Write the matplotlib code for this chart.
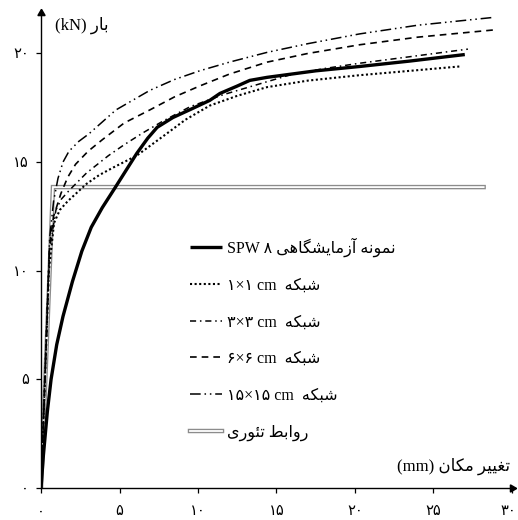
import matplotlib
matplotlib.use('Agg')
import matplotlib.pyplot as plt
from matplotlib.transforms import ScaledTranslation

FAMILY = ['Liberation Serif', 'DejaVu Sans']
plt.rcParams['font.family'] = FAMILY

# joining forms for the Persian letters used: (isolated, final, initial, medial)
FORMS = {
    'ا': ('\uFE8D', '\uFE8E', None, None),
    'آ': ('\uFE81', '\uFE82', None, None),
    'ر': ('\uFEAD', '\uFEAE', None, None),
    'ز': ('\uFEAF', '\uFEB0', None, None),
    'و': ('\uFEED', '\uFEEE', None, None),
    'ب': ('\uFE8F', '\uFE90', '\uFE91', '\uFE92'),
    'ت': ('\uFE95', '\uFE96', '\uFE97', '\uFE98'),
    'ش': ('\uFEB5', '\uFEB6', '\uFEB7', '\uFEB8'),
    'ط': ('\uFEC1', '\uFEC2', '\uFEC3', '\uFEC4'),
    'غ': ('\uFECD', '\uFECE', '\uFECF', '\uFED0'),
    'ک': ('\uFB8E', '\uFB8F', '\uFB90', '\uFB91'),
    'گ': ('\uFB92', '\uFB93', '\uFB94', '\uFB95'),
    'م': ('\uFEE1', '\uFEE2', '\uFEE3', '\uFEE4'),
    'ن': ('\uFEE5', '\uFEE6', '\uFEE7', '\uFEE8'),
    'ه': ('\uFEE9', '\uFEEA', '\uFEEB', '\uFEEC'),
    'ی': ('\uFBFC', '\uFBFD', '\uFBFE', '\uFBFF'),
    'ئ': ('\uFE89', '\uFE8A', '\uFE8B', '\uFE8C'),
}


def fa(s):
    """Shape Persian text and put it in visual (left-to-right) order."""
    out = []
    for i, c in enumerate(s):
        if c not in FORMS:
            out.append(c)
            continue
        prev = s[i - 1] if i > 0 else None
        nxt = s[i + 1] if i + 1 < len(s) else None
        jp = prev in FORMS and FORMS[prev][2] is not None
        jn = FORMS[c][2] is not None and nxt in FORMS
        iso, fin, ini, med = FORMS[c]
        out.append(med if (jp and jn) else fin if jp else ini if jn else iso)
    return ''.join(reversed(out))


# data: displacement (mm), load (kN)
spw_x = [0, 0.15, 0.4, 0.64, 1.0, 1.4, 2.0, 2.6, 3.2, 3.9, 4.7, 5.4, 6.1, 6.8, 7.4, 8.4, 9.6, 10.75, 11.4,
         12.5, 13.3, 14.4, 17.5, 20.3, 23.5, 27.0]
spw_y = [0, 1.5, 3.5, 5.0, 6.6, 7.9, 9.5, 10.9, 12.0, 12.9, 13.8, 14.6, 15.4, 16.1, 16.6, 17.05, 17.45, 17.84,
         18.16, 18.5, 18.76, 18.9, 19.2, 19.4, 19.65, 19.95]

m1_x = [0, 0.25, 0.5, 0.83, 1.2, 1.7, 2.3, 2.9, 3.7, 4.6, 6.1, 7.8, 9.2, 10.75, 12.5, 14.4, 17.0, 20.3, 23.5, 26.65]
m1_y = [0, 5.0, 10.0, 12.2, 12.8, 13.2, 13.6, 14.0, 14.4, 14.75, 15.3, 16.2, 16.95, 17.6, 18.05, 18.45, 18.75,
        19.0, 19.2, 19.4]

m3_x = [0, 0.25, 0.55, 0.95, 1.3, 1.8, 2.9, 4.3, 5.3, 6.5, 7.8, 9.5, 11.6, 14.4, 15.8, 18.0, 20.3, 23.5, 27.2]
m3_y = [0, 5.0, 11.0, 12.8, 13.3, 13.7, 14.5, 15.3, 15.8, 16.35, 16.9, 17.55, 18.1, 18.7, 19.0, 19.3, 19.55,
        19.85, 20.2]

m6_x = [0, 0.25, 0.55, 0.8, 1.27, 1.7, 2.2, 3.0, 3.94, 5.3, 6.93, 8.5, 10.1, 12.0, 14.4, 17.0, 20.3, 24.0, 29.1]
m6_y = [0, 5.0, 11.2, 12.5, 13.56, 14.3, 14.9, 15.5, 16.05, 16.8, 17.4, 18.0, 18.5, 19.05, 19.6, 20.0, 20.4,
        20.75, 21.1]

m15_x = [0, 0.25, 0.55, 0.8, 1.08, 1.4, 1.78, 2.4, 3.05, 4.77, 6.93, 8.5, 10.1, 12.0, 14.4, 17.0, 20.3, 24.0, 28.7]
m15_y = [0, 5.0, 11.5, 13.2, 14.25, 15.0, 15.5, 15.95, 16.3, 17.4, 18.3, 18.8, 19.2, 19.6, 20.05, 20.45, 20.9,
         21.3, 21.65]

th_x = [0, 0.76, 28.2]
th_y = [0, 13.85, 13.85]

x_ticks = [0, 5, 10, 15, 20, 25, 30]
x_tick_labels = ['۰', '۵', '۱۰', '۱۵', '۲۰', '۲۵', '۳۰']
y_ticks = [0, 5, 10, 15, 20]
y_tick_labels = ['۰', '۵', '۱۰', '۱۵', '۲۰']

labels = [
    'SPW ۸ ' + fa('نمونه آزمایشگاهی'),
    '۱×۱ cm  ' + fa('شبکه'),
    '۳×۳ cm  ' + fa('شبکه'),
    '۶×۶ cm  ' + fa('شبکه'),
    '۱۵×۱۵ cm  ' + fa('شبکه'),
    fa('روابط تئوری'),
]

fig = plt.figure(figsize=(5.18, 5.2), dpi=100)
ax = fig.add_axes([0.0792, 0.0615, 0.909, 0.913])

th_out, = ax.plot(th_x, th_y, color='#8c8c8c', lw=3.2, solid_joinstyle='miter')
th_in, = ax.plot(th_x, th_y, color='white', lw=1.3, solid_joinstyle='miter')
l1, = ax.plot(m1_x, m1_y, color='black', lw=1.5, linestyle=(0, (1, 1.2)))
l3, = ax.plot(m3_x, m3_y, color='black', lw=1.1, linestyle=(0, (4, 2.5, 1, 2.5)))
l6, = ax.plot(m6_x, m6_y, color='black', lw=1.2, linestyle=(0, (4, 3)))
l15, = ax.plot(m15_x, m15_y, color='black', lw=1.1, linestyle=(0, (7, 2.5, 1, 2.5, 1, 2.5)))
ls, = ax.plot(spw_x, spw_y, color='black', lw=2.4, solid_capstyle='butt', solid_joinstyle='round')

ax.set_xlim(0, 30)
ax.set_ylim(0, 21.85)
ax.set_xticks(x_ticks)
ax.set_xticklabels(x_tick_labels)
ax.set_yticks(y_ticks)
ax.set_yticklabels(y_tick_labels)
ax.tick_params(axis='x', direction='out', length=3.5, width=0.9, pad=9, labelsize=10.5)
ax.tick_params(axis='y', direction='out', length=3.5, width=0.9, pad=5, labelsize=10.5)
for s in ['top', 'right']:
    ax.spines[s].set_visible(False)
for s in ['left', 'bottom']:
    ax.spines[s].set_linewidth(1.0)

# keep the last x label inside the picture
last = ax.get_xticklabels()[-1]
last.set_transform(last.get_transform() + ScaledTranslation(-0.04, 0, fig.dpi_scale_trans))

# arrow heads at the axis ends
ax.plot(1, 0, marker=(3, 0, -90), color='black', ms=6, transform=ax.transAxes, clip_on=False)
ax.plot(0, 1, marker=(3, 0, 0), color='black', ms=6, transform=ax.transAxes, clip_on=False)

ax.text(0.03, 0.975, '(kN) ' + fa('بار'), transform=ax.transAxes,
        ha='left', va='center', fontsize=12)
ax.text(0.996, 0.046, '(mm) ' + fa('تغییر مکان'), transform=ax.transAxes,
        ha='right', va='center', fontsize=12)

ax.legend([ls, l1, l3, l6, l15, (th_out, th_in)], labels,
          loc='upper left', bbox_to_anchor=(0.3, 0.545), frameon=False,
          fontsize=11.5, handlelength=2.0, handletextpad=0.3,
          labelspacing=1.3, borderpad=0)

fig.savefig('out.png', dpi=100)
